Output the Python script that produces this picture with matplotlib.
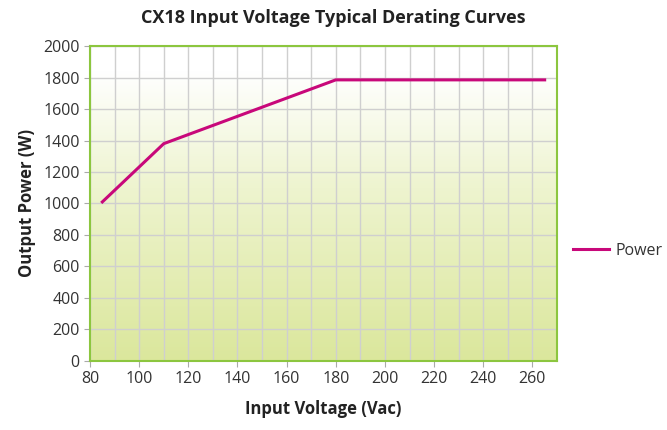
import numpy as np
import matplotlib.pyplot as plt
from matplotlib.colors import LinearSegmentedColormap

# Data
voltage = [85, 110, 180, 265]
power = [1010, 1380, 1785, 1785]

x_ticks = list(range(80, 261, 20))
y_ticks = list(range(0, 2001, 200))

plt.rcParams['font.family'] = ['Open Sans', 'DejaVu Sans']

fig = plt.figure(figsize=(6.67, 4.3), dpi=100)
ax = fig.add_axes([0.135, 0.1605, 0.700, 0.7325])

# background gradient: light green at bottom fading to white near the top
cmap = LinearSegmentedColormap.from_list('bg', [(0.0, '#dbe79c'), (0.55, '#eef4cf'), (0.92, '#ffffff'), (1.0, '#ffffff')])
grad = np.linspace(0, 1, 256).reshape(-1, 1)
ax.imshow(grad, cmap=cmap, aspect='auto', origin='lower',
          extent=[80, 270, 0, 2000], zorder=0)

ax.set_xlim(80, 270)
ax.set_ylim(0, 2000)
ax.set_xticks(x_ticks)
ax.set_xticks(list(range(90, 270, 20)), minor=True)
ax.set_yticks(y_ticks)
ax.grid(True, which='both', color='#cfcfcf', linewidth=1.0, zorder=1)

ax.plot(voltage, power, color='#c8087a', linewidth=2.2, label='Power', zorder=3)

for s in ax.spines.values():
    s.set_color('#8cc63f')
    s.set_linewidth(1.5)
    s.set_zorder(5)
ax.tick_params(axis='both', which='major', colors='#aaaaaa', labelcolor='#333333',
               labelsize=11.5, length=4)
ax.tick_params(axis='x', which='minor', length=0)

ax.set_xlabel('Input Voltage (Vac)', fontsize=12, fontweight='bold', color='#222222', labelpad=9)
ax.set_ylabel('Output Power (W)', fontsize=12, fontweight='bold', color='#222222', labelpad=5)
fig.suptitle('CX18 Input Voltage Typical Derating Curves', fontsize=13, fontweight='bold',
             color='#222222', x=0.5, y=0.98)

ax.legend(loc='center left', bbox_to_anchor=(0.02, 0.35), bbox_transform=None,
          frameon=False, fontsize=11.5, handlelength=2.3, handletextpad=0.4,
          borderaxespad=0, labelcolor='#333333')
leg = ax.get_legend()
leg.set_bbox_to_anchor((1.02, 0.35), transform=ax.transAxes)

fig.savefig('out.png', dpi=100)
